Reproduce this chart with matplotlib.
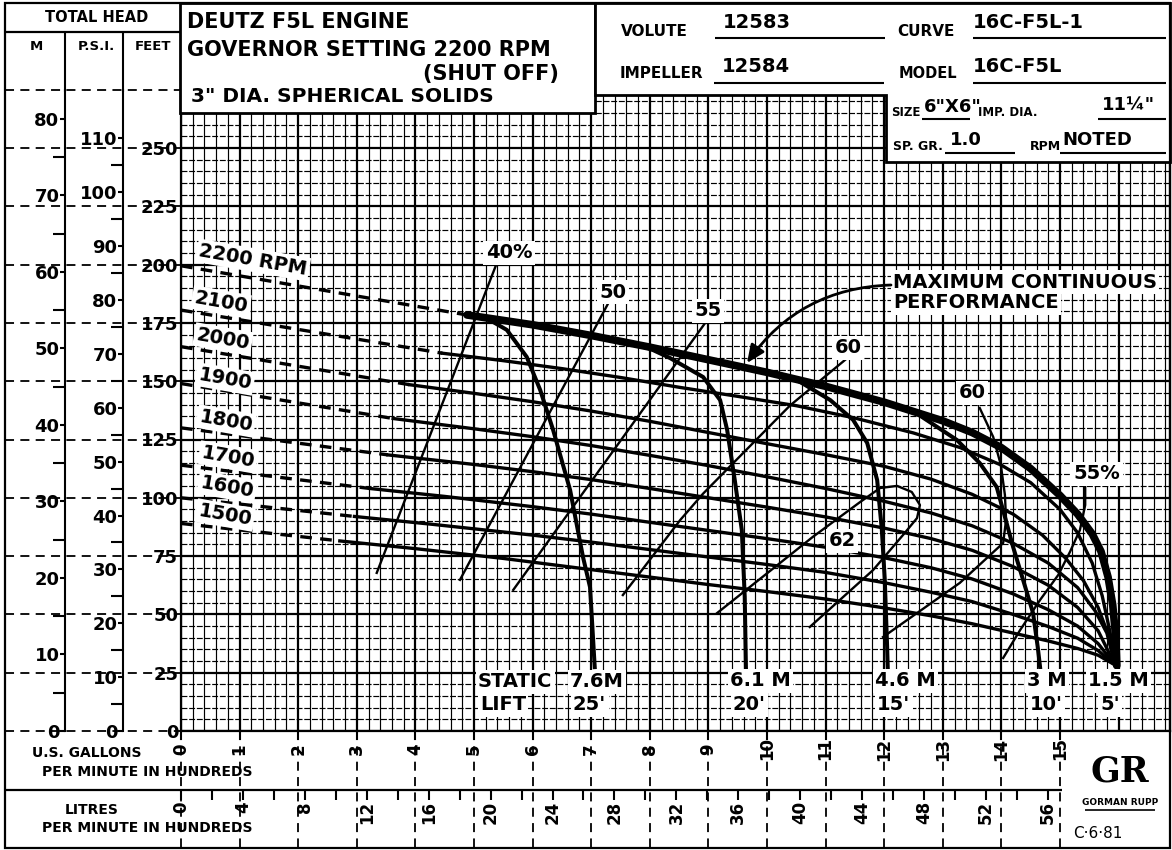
import matplotlib
matplotlib.use("Agg")
import matplotlib.pyplot as plt
from matplotlib.transforms import Affine2D, blended_transform_factory
from matplotlib.patches import Polygon, Rectangle
from matplotlib.lines import Line2D
import numpy as np

plt.rcParams['font.family'] = ['DejaVu Sans']
plt.rcParams['font.weight'] = 'bold'

# ---------------- data: flow in hundreds of US GPM, head in feet ----------------
# speed curves, dashed part (from shut-off head)
q_dash_2200 = [0.0, 4.88];  h_dash_2200 = [199.5, 178.4]
q_dash_2100 = [0.0, 4.46];  h_dash_2100 = [180.5, 162.0]
q_dash_2000 = [0.0, 3.90];  h_dash_2000 = [164.8, 148.5]
q_dash_1900 = [0.0, 3.62];  h_dash_1900 = [149.0, 134.0]
q_dash_1800 = [0.0, 3.53];  h_dash_1800 = [130.0, 118.4]
q_dash_1700 = [0.0, 3.22];  h_dash_1700 = [114.0, 104.0]
q_dash_1600 = [0.0, 2.96];  h_dash_1600 = [100.0, 92.0]
q_dash_1500 = [0.0, 2.71];  h_dash_1500 = [89.0, 81.5]

# 2200 RPM = maximum continuous performance (solid)
q_2200 = [4.88, 6, 7, 8, 9, 10, 11, 12, 13, 13.5, 14, 14.5, 15, 15.3, 15.55, 15.7, 15.82, 15.9, 15.94, 15.96, 15.97]
h_2200 = [178.4, 174.2, 169.6, 164.6, 159.2, 153.8, 147.8, 141, 133, 128, 121.5, 112.5, 101, 93, 84.5, 77, 66, 54, 43, 35, 28]
q_2100 = [4.46, 5.5, 6.5, 7.5, 8.5, 9.5, 10.5, 11.5, 12.5, 13.3, 14, 14.5, 15, 15.3, 15.55, 15.72, 15.84, 15.91, 15.94]
h_2100 = [162, 158.8, 155.4, 151.6, 147.4, 143.5, 139.5, 134.2, 127.8, 121.5, 114, 106.5, 95, 85, 72, 58, 44, 35, 28.3]
q_2000 = [3.9, 5, 6, 7, 8, 9, 10, 11, 12, 12.8, 13.5, 14.2, 14.7, 15.1, 15.4, 15.65, 15.82, 15.94]
h_2000 = [148.5, 144.8, 141.2, 137.2, 132.8, 128, 123.2, 118.5, 113.5, 108, 101.5, 93, 84, 74, 64.5, 53, 41.5, 28.3]
q_1900 = [3.62, 5, 6, 7, 8, 9, 10, 11, 12, 12.8, 13.5, 14.2, 14.8, 15.3, 15.6, 15.8, 15.94]
h_1900 = [134, 129.6, 126.2, 122.4, 118.2, 113.8, 109, 104, 98.5, 93.5, 88, 80.5, 72, 61.5, 51.5, 42, 28.3]
q_1800 = [3.53, 5, 6, 7, 8, 9, 10, 11, 12, 12.8, 13.5, 14.2, 14.8, 15.3, 15.65, 15.94]
h_1800 = [118.4, 114.3, 111.2, 107.8, 104, 100, 96, 91.8, 87, 82.5, 77.5, 70.5, 62.5, 53, 43, 28.3]
q_1700 = [3.22, 4.5, 6, 7, 8, 9, 10, 11, 12, 12.8, 13.5, 14.2, 14.8, 15.3, 15.65, 15.94]
h_1700 = [104, 100.6, 96.2, 93, 89.5, 86, 82.5, 78.8, 74.3, 70, 65.2, 58.8, 52, 45, 37.5, 28.3]
q_1600 = [2.96, 4.3, 6, 7, 8, 9, 10, 11, 12, 12.8, 13.5, 14.2, 14.8, 15.3, 15.65, 15.94]
h_1600 = [92, 88.6, 84, 81, 77.8, 74.6, 71.4, 68, 63.6, 59.5, 55.5, 50, 44.8, 39.8, 34.5, 28.3]
q_1500 = [2.71, 4, 5.5, 7, 8, 9, 10, 11, 12, 12.8, 13.5, 14.2, 14.8, 15.3, 15.65, 15.94]
h_1500 = [81.5, 78.2, 74, 69.2, 66, 62.8, 59.8, 56.6, 52.8, 49.4, 46, 42, 38.6, 35.4, 32.5, 28.3]

# static lift curves
q_lift_76 = [4.88, 5.25, 5.56, 5.90, 6.13, 6.35, 6.64, 6.86, 6.98, 7.06]
h_lift_76 = [178.4, 176.5, 172, 160.4, 146.2, 129.1, 103.3, 74.6, 61.7, 27.4]
q_lift_61 = [7.6, 8.0, 8.34, 8.91, 9.20, 9.32, 9.45, 9.57, 9.62, 9.64]
h_lift_61 = [166.4, 164, 160, 151.8, 141.9, 129.1, 107.6, 86.2, 57.5, 27.4]
q_lift_46 = [9.8, 10.51, 11.08, 11.47, 11.71, 11.88, 11.96, 12.01, 12.05, 12.06]
h_lift_46 = [155.3, 150.5, 141.9, 133.4, 123.5, 107.6, 86.2, 64.8, 36, 27.4]
q_lift_30 = [12.45, 13.24, 13.63, 13.92, 14.06, 14.20, 14.37, 14.54, 14.62, 14.66]
h_lift_30 = [137.9, 124.8, 114.9, 104.6, 91.8, 78.9, 64.8, 50.6, 36, 27.4]

# efficiency lines
q_eff_40 = [3.34, 5.39];  h_eff_40 = [67.8, 200.7]
q_eff_50 = [4.76, 7.32];  h_eff_50 = [64.8, 184.8]
q_eff_55 = [5.67, 8.98];  h_eff_55 = [60.5, 176.2]
q_eff_60a = [7.54, 8.52, 8.91, 10.39, 11.36]
h_eff_60a = [58.3, 90.5, 101.8, 139.5, 159.7]
q_eff_62 = [9.15, 10.78, 11.59, 11.93, 12.22, 12.47, 12.61, 12.56, 12.35, 11.81, 10.73]
h_eff_62 = [50.6, 83.2, 98.2, 104.2, 105.1, 102.5, 96.9, 91.3, 84.9, 69.0, 44.6]
q_eff_60b = [13.63, 13.86, 13.99, 14.06, 14.08, 14.03, 13.29, 11.98]
h_eff_60b = [138.5, 126.1, 114.1, 101.2, 90.5, 80.6, 63.5, 40.3]
q_eff_55b = [15.43, 15.43, 15.34, 15.17, 14.97, 14.66, 14.32, 14.03]
h_eff_55b = [107.6, 96.9, 86.2, 76.8, 66.9, 56.2, 43.3, 31.3]

# labels
rpm_labels = ['2200 RPM', '2100', '2000', '1900', '1800', '1700', '1600', '1500']
eff_labels = ['40%', '50', '55', '60', '60', '55%', '62']
lift_labels = ['STATIC', '7.6M', 'LIFT', "25'", '6.1 M', "20'", '4.6 M', "15'", '3 M', "10'", '1.5 M', "5'"]

# axis tick values
gpm_ticks = list(range(0, 16))
litre_major = list(range(0, 57, 4))
litre_minor = list(range(2, 55, 4))
feet_major = list(range(0, 276, 25))
m_major = list(range(0, 81, 10))
m_minor = list(range(5, 76, 10))
psi_major = list(range(0, 111, 10))
psi_minor = list(range(5, 106, 10))

# ---------------- layout ----------------
W, H = 1172, 850
fig = plt.figure(figsize=(W / 100, H / 100), dpi=100)
T = Affine2D().scale(1.0 / W, -1.0 / H).translate(0, 1) + fig.transFigure

X0, Y0, XR = 181, 731, 1170
PXQ, PXH = 58.6, 2.332
QMAX = (XR - X0) / PXQ
HMAX = 275
ax = fig.add_axes([X0 / W, 1 - Y0 / H, (XR - X0) / W, HMAX * PXH / H])
ax.set_xlim(0, QMAX)
ax.set_ylim(0, HMAX)

# graph-paper grid
ax.set_xticks(np.arange(0, 17, 1))
ax.set_xticks(np.arange(0, QMAX, 0.2), minor=True)
ax.set_yticks(feet_major)
ax.set_yticks(np.arange(0, 276, 5), minor=True)
ax.xaxis.grid(True, which='major', color='k', lw=1.6)
ax.xaxis.grid(True, which='minor', color='k', lw=0.85)
ax.yaxis.grid(True, which='major', color='k', lw=1.6)
ax.yaxis.grid(True, which='minor', color='k', lw=0.85, ls=(0, (5, 1.5)))
ax.set_axisbelow(True)
for s in ax.spines.values():
    s.set_linewidth(1.6)
ax.tick_params(axis='x', which='both', length=0, labelbottom=False)
ax.set_yticklabels([str(v) for v in feet_major[:-1]] + [''])
ax.tick_params(axis='y', which='both', length=0, pad=2, labelsize=13)

# M and PSI scales
secm = ax.secondary_yaxis((65 - X0) / (XR - X0), functions=(lambda f: f / 3.2808, lambda m: m * 3.2808))
secm.set_yticks(m_major)
secm.set_yticks(m_minor, minor=True)
secm.tick_params(which='major', direction='out', length=3.5, width=1.5, pad=0.5, labelsize=13)
secm.tick_params(which='minor', direction='out', length=8.5, width=1.5)
secm.spines['left'].set_linewidth(1.5)

secp = ax.secondary_yaxis((123 - X0) / (XR - X0), functions=(lambda f: f / 2.31, lambda p: p * 2.31))
secp.set_yticks(psi_major)
secp.set_yticks(psi_minor, minor=True)
secp.tick_params(which='major', direction='out', length=3.5, width=1.5, pad=0.5, labelsize=13)
secp.tick_params(which='minor', direction='out', length=8.5, width=1.5)
secp.spines['left'].set_linewidth(1.5)

# litres scale
secl = ax.secondary_xaxis(-(790 - Y0) / (HMAX * PXH), functions=(lambda q: q * 3.78541, lambda l: l / 3.78541))
secl.set_xticks(litre_major)
secl.set_xticks(litre_minor, minor=True)
secl.set_xticklabels([str(v) for v in litre_major])
secl.tick_params(which='both', direction='out', length=7.5, width=1.5, pad=0.5, labelsize=12, labelrotation=90)
secl.spines['bottom'].set_visible(False)

bx = blended_transform_factory(ax.transData, T)   # x data, y pixels
by = blended_transform_factory(T, ax.transData)   # x pixels, y data

def fline(xs, ys, lw=1.5, ls='-', z=6):
    fig.add_artist(Line2D(xs, ys, transform=T, color='k', lw=lw, ls=ls, zorder=z,
                          solid_capstyle='butt'))

def ftext(x, y, s, size, ha='left', va='center', z=8, **kw):
    fig.text(x, y, s, transform=T, fontsize=size, ha=ha, va=va, zorder=z, **kw)

# GPM scale (dashed lines through both rows)
for q in gpm_ticks:
    ax.plot([q, q], [Y0, 848], transform=bx, color='k', lw=1.3, ls=(0, (5, 3.5)), clip_on=False)
    ax.plot([q, q], [Y0, 739], transform=bx, color='k', lw=1.5, clip_on=False)
    ax.text(q, 749, str(q), transform=bx, rotation=90, ha='center', va='center', fontsize=12)

# dashed feet lines through left scales
for f in feet_major:
    ax.plot([5, X0], [f, f], transform=by, color='k', lw=1.3, ls=(0, (5, 3.5)), clip_on=False)

# ---------------- curves ----------------
BW = 2.4
for q, h in [(q_dash_2200, h_dash_2200), (q_dash_2100, h_dash_2100), (q_dash_2000, h_dash_2000),
             (q_dash_1900, h_dash_1900), (q_dash_1800, h_dash_1800), (q_dash_1700, h_dash_1700),
             (q_dash_1600, h_dash_1600), (q_dash_1500, h_dash_1500)]:
    ax.plot(q, h, color='k', lw=BW, ls=(0, (3.5, 2.5)), zorder=3)

for q, h in [(q_2100, h_2100), (q_2000, h_2000), (q_1900, h_1900), (q_1800, h_1800),
             (q_1700, h_1700), (q_1600, h_1600), (q_1500, h_1500)]:
    ax.plot(q, h, color='k', lw=BW, zorder=3, solid_joinstyle='round')
ax.plot(q_2200, h_2200, color='k', lw=5.5, zorder=4, solid_joinstyle='round', solid_capstyle='round')

for q, h in [(q_lift_76, h_lift_76), (q_lift_61, h_lift_61), (q_lift_46, h_lift_46), (q_lift_30, h_lift_30)]:
    ax.plot(q, h, color='k', lw=2.9, zorder=3, solid_joinstyle='round')

for q, h in [(q_eff_40, h_eff_40), (q_eff_50, h_eff_50), (q_eff_55, h_eff_55), (q_eff_60a, h_eff_60a),
             (q_eff_62, h_eff_62), (q_eff_60b, h_eff_60b), (q_eff_55b, h_eff_55b)]:
    ax.plot(q, h, color='k', lw=1.7, zorder=3, solid_joinstyle='round')

WB = dict(boxstyle='square,pad=0.12', fc='white', ec='none')

for s, (x, y) in zip(rpm_labels, [(253, 260), (221, 302), (223, 339), (225, 379), (226, 421),
                                  (228, 457), (227, 487), (225, 515)]):
    ax.text(x, y, s, transform=T, fontsize=14, rotation=-10, ha='center', va='center', bbox=WB, zorder=6)

for s, (x, y) in zip(eff_labels, [(509, 253), (613, 292), (708, 311), (848, 348), (972, 393),
                                  (1097, 474), (842, 541)]):
    ax.text(x, y, s, transform=T, fontsize=14, ha='center', va='center', bbox=WB, zorder=6)

for s, (x, y) in zip(lift_labels, [(478, 682), (570, 682), (480, 705), (573, 705), (730, 681), (733, 705),
                                   (875, 681), (877, 705), (1027, 681), (1030, 705), (1088, 681), (1100, 705)]):
    ax.text(x, y, s, transform=T, fontsize=14, ha='left', va='center', bbox=WB, zorder=6)

ax.text(893, 282, 'MAXIMUM CONTINUOUS', transform=T, fontsize=14, ha='left', va='center', bbox=WB, zorder=6)
ax.text(893, 303, 'PERFORMANCE', transform=T, fontsize=14, ha='left', va='center', bbox=WB, zorder=6)
ax.annotate('', xy=(747, 363), xycoords=T, xytext=(891, 285), textcoords=T,
            arrowprops=dict(arrowstyle='-|>,head_length=0.9,head_width=0.4', connectionstyle='arc3,rad=0.25',
                            lw=2.0, color='k', shrinkA=0, shrinkB=0, mutation_scale=12), zorder=6)

# ---------------- header and frame ----------------
fig.add_artist(Rectangle((180, 3), 415, 110, transform=T, fc='white', ec='k', lw=2, zorder=5))
fig.add_artist(Polygon([(595, 3), (1170, 3), (1170, 162), (886, 162), (886, 95), (595, 95)],
                       closed=True, transform=T, fc='white', ec='k', lw=2, zorder=5))
fig.add_artist(Rectangle((5, 3), 1165, 845, transform=T, fill=False, ec='k', lw=1.6, zorder=7))

fline([5, 180], [32, 32], lw=1.6)
fline([65, 65], [32, 92], lw=1.5)
fline([123, 123], [32, 92], lw=1.5)
fline([5, 1062], [790, 790], lw=1.6)

ftext(97, 18, 'TOTAL HEAD', 10.5, ha='center')
ftext(36, 46, 'M', 9.5, ha='center')
ftext(96, 46, 'P.S.I.', 9.5, ha='center')
ftext(153, 46, 'FEET', 9.5, ha='center')

ftext(187, 22, 'DEUTZ F5L ENGINE', 15)
ftext(187, 50, 'GOVERNOR SETTING 2200 RPM', 15)
ftext(559, 74, '(SHUT OFF)', 15, ha='right')
ftext(191, 97, '3" DIA. SPHERICAL SOLIDS', 14.5)

ftext(621, 31, 'VOLUTE', 11)
ftext(723, 22, '12583', 14)
fline([715, 885], [38, 38], lw=1.5)
ftext(897, 31, 'CURVE', 11)
ftext(973, 22, '16C-F5L-1', 14)
fline([973, 1166], [38, 38], lw=1.5)
ftext(620, 74, 'IMPELLER', 11)
ftext(722, 66, '12584', 14)
fline([714, 884], [83, 83], lw=1.5)
ftext(899, 74, 'MODEL', 10.5)
ftext(973, 66, '16C-F5L', 14)
fline([973, 1166], [83, 83], lw=1.5)

ftext(891, 113, 'SIZE', 8.5)
ftext(924, 107, '6"X6"', 13)
fline([922, 970], [119, 119], lw=1.5)
ftext(978, 113, 'IMP. DIA.', 8.5)
ftext(1102, 105, '11¼"', 13)
fline([1098, 1166], [119, 119], lw=1.5)
ftext(893, 146, 'SP. GR.', 9)
ftext(950, 140, '1.0', 13)
fline([945, 1015], [153, 153], lw=1.5)
ftext(1030, 146, 'RPM', 9)
ftext(1062, 140, 'NOTED', 13)
fline([1060, 1166], [153, 153], lw=1.5)

ftext(32, 753, 'U.S. GALLONS', 10)
ftext(42, 772, 'PER MINUTE IN HUNDREDS', 10)
ftext(65, 810, 'LITRES', 10)
ftext(42, 828, 'PER MINUTE IN HUNDREDS', 10)

ftext(1120, 772, 'GR', 25, ha='center', family='DejaVu Serif', weight='heavy')
ftext(1120, 803, 'GORMAN RUPP', 6.5, ha='center')
fline([1085, 1155], [810, 810], lw=1.2)
ftext(1073, 834, 'C·6·81', 11, weight='normal')

fig.savefig('out.png', dpi=100)
